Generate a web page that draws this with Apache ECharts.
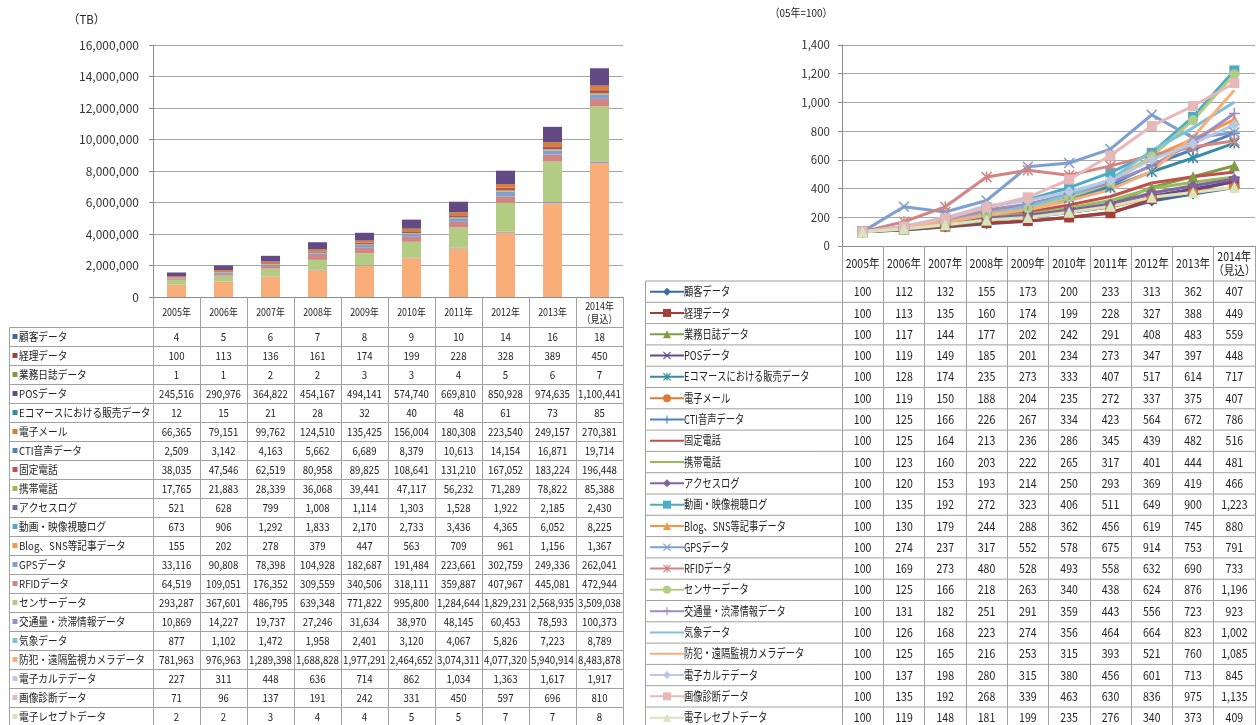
<!DOCTYPE html>
<html>
<head>
<meta charset="utf-8">
<script src="https://cdn.jsdelivr.net/npm/echarts@6/dist/echarts.min.js"></script>
<style>
html, body { margin: 0; padding: 0; background: #fff; }
#main { width: 1256px; height: 725px; }
</style>
</head>
<body>
<div id="main"></div>
<script>
const years = ['2005年', '2006年', '2007年', '2008年', '2009年', '2010年', '2011年', '2012年', '2013年', '2014年\n（見込）'];

const seriesNames = [
  '顧客データ', '経理データ', '業務日誌データ', 'POSデータ', 'Eコマースにおける販売データ',
  '電子メール', 'CTI音声データ', '固定電話', '携帯電話', 'アクセスログ',
  '動画・映像視聴ログ', 'Blog、SNS等記事データ', 'GPSデータ', 'RFIDデータ', 'センサーデータ',
  '交通量・渋滞情報データ', '気象データ', '防犯・遠隔監視カメラデータ', '電子カルテデータ', '画像診断データ',
  '電子レセプトデータ'
];

// 流通量 (TB)
const tbValues = [
  [4, 5, 6, 7, 8, 9, 10, 14, 16, 18],
  [100, 113, 136, 161, 174, 199, 228, 328, 389, 450],
  [1, 1, 2, 2, 3, 3, 4, 5, 6, 7],
  [245516, 290976, 364822, 454167, 494141, 574740, 669810, 850928, 974635, 1100441],
  [12, 15, 21, 28, 32, 40, 48, 61, 73, 85],
  [66365, 79151, 99762, 124510, 135425, 156004, 180308, 223540, 249157, 270381],
  [2509, 3142, 4163, 5662, 6689, 8379, 10613, 14154, 16871, 19714],
  [38035, 47546, 62519, 80958, 89825, 108641, 131210, 167052, 183224, 196448],
  [17765, 21883, 28339, 36068, 39441, 47117, 56232, 71289, 78822, 85388],
  [521, 628, 799, 1008, 1114, 1303, 1528, 1922, 2185, 2430],
  [673, 906, 1292, 1833, 2170, 2733, 3436, 4365, 6052, 8225],
  [155, 202, 278, 379, 447, 563, 709, 961, 1156, 1367],
  [33116, 90808, 78398, 104928, 182687, 191484, 223661, 302759, 249336, 262041],
  [64519, 109051, 176352, 309559, 340506, 318111, 359887, 407967, 445081, 472944],
  [293287, 367601, 486795, 639348, 771822, 995800, 1284644, 1829231, 2568935, 3509038],
  [10869, 14227, 19737, 27246, 31634, 38970, 48145, 60453, 78593, 100373],
  [877, 1102, 1472, 1958, 2401, 3120, 4067, 5826, 7223, 8789],
  [781963, 976963, 1289398, 1688828, 1977291, 2464652, 3074311, 4077320, 5940914, 8483878],
  [227, 311, 448, 636, 714, 862, 1034, 1363, 1617, 1917],
  [71, 96, 137, 191, 242, 331, 450, 597, 696, 810],
  [2, 2, 3, 4, 4, 5, 5, 7, 7, 8]
];

// 05年=100
const indexValues = [
  [100, 112, 132, 155, 173, 200, 233, 313, 362, 407],
  [100, 113, 135, 160, 174, 199, 228, 327, 388, 449],
  [100, 117, 144, 177, 202, 242, 291, 408, 483, 559],
  [100, 119, 149, 185, 201, 234, 273, 347, 397, 448],
  [100, 128, 174, 235, 273, 333, 407, 517, 614, 717],
  [100, 119, 150, 188, 204, 235, 272, 337, 375, 407],
  [100, 125, 166, 226, 267, 334, 423, 564, 672, 786],
  [100, 125, 164, 213, 236, 286, 345, 439, 482, 516],
  [100, 123, 160, 203, 222, 265, 317, 401, 444, 481],
  [100, 120, 153, 193, 214, 250, 293, 369, 419, 466],
  [100, 135, 192, 272, 323, 406, 511, 649, 900, 1223],
  [100, 130, 179, 244, 288, 362, 456, 619, 745, 880],
  [100, 274, 237, 317, 552, 578, 675, 914, 753, 791],
  [100, 169, 273, 480, 528, 493, 558, 632, 690, 733],
  [100, 125, 166, 218, 263, 340, 438, 624, 876, 1196],
  [100, 131, 182, 251, 291, 359, 443, 556, 723, 923],
  [100, 126, 168, 223, 274, 356, 464, 664, 823, 1002],
  [100, 125, 165, 216, 253, 315, 393, 521, 760, 1085],
  [100, 137, 198, 280, 315, 380, 456, 601, 713, 845],
  [100, 135, 192, 268, 339, 463, 630, 836, 975, 1135],
  [100, 119, 148, 181, 199, 235, 276, 340, 373, 409]
];

const colors = [
  '#3D6AA2', '#A53D3A', '#7E9E45', '#634A85', '#348CA3', '#DB7C33',
  '#4F81BD', '#C0504D', '#9BBB59', '#8064A2', '#4BACC6', '#F79646',
  '#7F9FD1', '#D38583', '#B3CC84', '#A08DBF', '#7DC2D6', '#F9AE79',
  '#B9C9E4', '#E6B9B8', '#D7E4BD'
];

const X_PATH = 'path://M0,1L1,0L5,4L9,0L10,1L6,5L10,9L9,10L5,6L1,10L0,9L4,5Z';
const PLUS_PATH = 'path://M4.3,0H5.7V4.3H10V5.7H5.7V10H4.3V5.7H0V4.3H4.3Z';
const STAR_PATH = X_PATH + 'M4.3,0H5.7V10H4.3Z';
const markers = [
  'diamond', 'rect', 'triangle', X_PATH, STAR_PATH, 'circle', PLUS_PATH,
  'none', 'none', 'diamond', 'rect', 'triangle', X_PATH, STAR_PATH, 'circle', PLUS_PATH,
  'none', 'none', 'diamond', 'rect', 'triangle'
];

const FONT = '"Noto Sans CJK JP", "Noto Sans", sans-serif';
const lineColor = '#a0a0a0';

// layout of the two panels
const LG = { left: 153, top: 45, width: 470, height: 252, tableLeft: 9.5, headerH: 31, rowH: 19 };
const RG = { left: 842, top: 45, width: 413, height: 201, tableLeft: 645.5, headerH: 35, rowH: 21.3 };
const rTop = RG.top + RG.height + RG.headerH;

const chart = echarts.init(document.getElementById('main'));

const lineSeries = seriesNames.map((name, i) => ({
  name: name,
  type: 'line',
  xAxisIndex: 1,
  yAxisIndex: 1,
  data: indexValues[i],
  symbol: markers[i],
  symbolSize: markers[i] === 'rect' || markers[i] === 'circle' ? 10 : 11,
  showSymbol: markers[i] !== 'none',
  lineStyle: { width: 3, color: colors[i] },
  itemStyle: { color: colors[i] },
  emphasis: { disabled: true }
}));

const barSeries = seriesNames.map((name, i) => ({
  name: name,
  type: 'bar',
  stack: 'tb',
  xAxisIndex: 0,
  yAxisIndex: 0,
  barWidth: 19,
  data: tbValues[i],
  itemStyle: { color: colors[i] },
  emphasis: { disabled: true }
})).reverse();

// one legend per table row so each icon sits in its own row
const legends = seriesNames.map((name, i) => ({
  orient: 'vertical',
  left: 649,
  top: rTop + (i + 0.5) * RG.rowH - 5,
  itemWidth: 34,
  itemHeight: 10,
  padding: 0,
  selectedMode: false,
  data: [markers[i] === 'none' ? { name: name, itemStyle: { opacity: 0 } } : name],
  formatter: () => '',
  textStyle: { fontSize: 1 }
}));

function axisY(gridIndex, max, interval, fontSize, margin) {
  return {
    gridIndex: gridIndex,
    type: 'value',
    min: 0,
    max: max,
    interval: interval,
    axisLine: { show: true, lineStyle: { color: '#8c8c8c' } },
    axisTick: { show: true, length: 4, lineStyle: { color: '#8c8c8c' } },
    axisLabel: {
      fontSize: fontSize, color: '#333', fontFamily: FONT, margin: margin,
      formatter: v => v.toLocaleString('en-US')
    },
    splitLine: { lineStyle: { color: '#a6a6a6', width: 1 } }
  };
}

chart.setOption({
  animation: false,
  grid: [
    { left: LG.left, top: LG.top, width: LG.width, height: LG.height },
    { left: RG.left, top: RG.top, width: RG.width, height: RG.height }
  ],
  legend: legends,
  xAxis: [
    {
      gridIndex: 0, type: 'category', data: years,
      axisLine: { lineStyle: { color: '#8c8c8c' } },
      axisTick: { show: true, interval: 0, length: 430, lineStyle: { color: lineColor } },
      axisLabel: { show: false }
    },
    {
      gridIndex: 1, type: 'category', data: years,
      axisLine: { lineStyle: { color: '#8c8c8c' } },
      axisTick: { show: true, interval: 0, length: 480, lineStyle: { color: lineColor } },
      axisLabel: { show: false }
    }
  ],
  yAxis: [
    axisY(0, 16000000, 2000000, 12, 14),
    axisY(1, 1400, 200, 11.5, 12)
  ],
  series: lineSeries.concat(barSeries)
});

// data tables under both charts
function txt(x, y, text, size, sx, align) {
  return {
    type: 'text', x: x, y: y, scaleX: sx, silent: true,
    style: {
      text: text, fill: '#222', font: size + 'px ' + FONT,
      align: align, verticalAlign: 'middle',
      textAlign: align, textVerticalAlign: 'middle', lineHeight: size + 2
    }
  };
}
function hline(x1, x2, y) {
  return { type: 'line', silent: true, shape: { x1: x1, y1: y, x2: x2, y2: y }, style: { stroke: lineColor, lineWidth: 1 } };
}
function vline(x, y1, y2) {
  return { type: 'line', silent: true, shape: { x1: x, y1: y1, x2: x, y2: y2 }, style: { stroke: lineColor, lineWidth: 1 } };
}

const g = [];
g.push(txt(68, 19, '（TB）', 12, 0.95, 'left'));
g.push(txt(801, 13, '（05年=100）', 11, 0.9, 'center'));

// left table
const lBottom = LG.top + LG.height;
const lTop = lBottom + LG.headerH - 0.5;
const lRight = LG.left + LG.width;
for (let k = 0; k <= seriesNames.length; k++) g.push(hline(LG.tableLeft, lRight, lTop + k * LG.rowH));
g.push(vline(LG.tableLeft, lTop, 725));
years.forEach((yr, j) => {
  const cx = chart.convertToPixel({ xAxisIndex: 0 }, j);
  g.push(txt(cx, lBottom + LG.headerH / 2, yr, 10.5, 0.85, 'center'));
  tbValues.forEach((row, i) => {
    g.push(txt(cx, lTop + (i + 0.5) * LG.rowH, row[j].toLocaleString('en-US'), 11, 0.88, 'center'));
  });
});
seriesNames.forEach((name, i) => {
  const cy = lTop + (i + 0.5) * LG.rowH;
  g.push({ type: 'rect', silent: true, shape: { x: 12.5, y: cy - 3, width: 5, height: 5 }, style: { fill: colors[i] } });
  g.push(txt(19, cy, name, 11, 0.88, 'left'));
});

// right table
const rBottom = RG.top + RG.height;
const rRight = RG.left + RG.width;
for (let k = 0; k <= seriesNames.length; k++) g.push(hline(RG.tableLeft, rRight, rTop + k * RG.rowH));
g.push(vline(RG.tableLeft, rTop, 725));
years.forEach((yr, j) => {
  const cx = chart.convertToPixel({ xAxisIndex: 1 }, j);
  g.push(txt(cx, rBottom + RG.headerH / 2, yr, 12, 0.88, 'center'));
  indexValues.forEach((row, i) => {
    g.push(txt(cx, rTop + (i + 0.5) * RG.rowH, row[j].toLocaleString('en-US'), 12, 0.88, 'center'));
  });
});
seriesNames.forEach((name, i) => {
  g.push(txt(684, rTop + (i + 0.5) * RG.rowH, name, 12, 0.77, 'left'));
});

chart.setOption({ graphic: g });
</script>
</body>
</html>
